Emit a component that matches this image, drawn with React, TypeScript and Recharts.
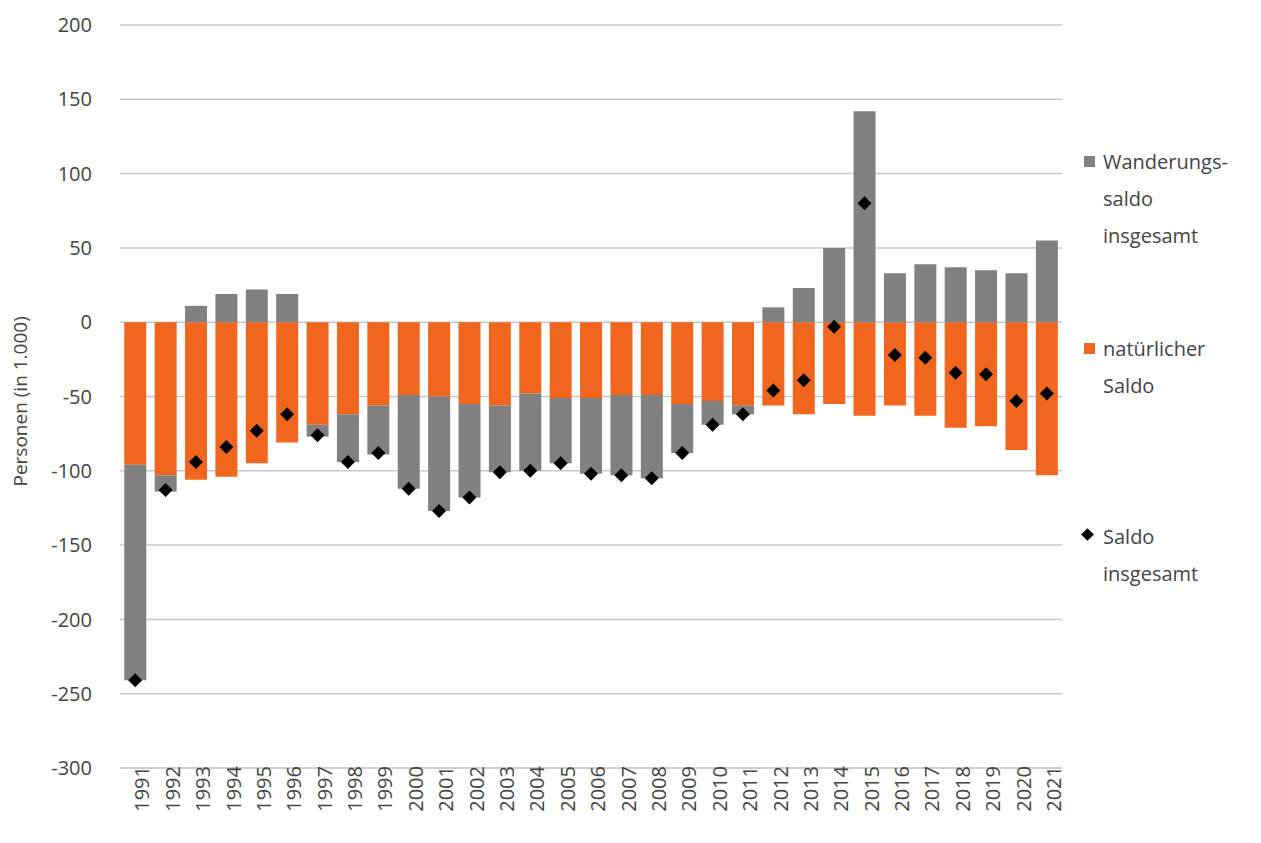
import React from "react";
import { ComposedChart, Bar, Line, XAxis, YAxis, CartesianGrid } from "recharts";

const years = [1991,1992,1993,1994,1995,1996,1997,1998,1999,2000,2001,2002,2003,2004,2005,2006,2007,2008,2009,2010,2011,2012,2013,2014,2015,2016,2017,2018,2019,2020,2021];
const natural = [-96,-103,-106,-104,-95,-81,-69,-62,-56,-49,-50,-55,-56,-48,-51,-51,-49,-49,-55,-53,-56,-56,-62,-55,-63,-56,-63,-71,-70,-86,-103];
const migration = [-145,-11,11,19,22,19,-8,-32,-33,-63,-77,-63,-45,-52,-44,-51,-54,-56,-33,-16,-6,10,23,50,142,33,39,37,35,33,55];
const total = [-241,-113,-94,-84,-73,-62,-76,-94,-88,-112,-127,-118,-101,-100,-95,-102,-103,-105,-88,-69,-62,-46,-39,-3,80,-22,-24,-34,-35,-53,-48];
const yTicks = [200,150,100,50,0,-50,-100,-150,-200,-250,-300];

const data = years.map((y, i) => ({ year: String(y), nat: natural[i], mig: migration[i], tot: total[i] }));

const font = "'Open Sans', sans-serif";

const Diamond = (p: any) => {
  const { cx, cy } = p;
  if (cx == null || cy == null) return null;
  const s = 7;
  return <path d={`M${cx},${cy - s}L${cx + s},${cy}L${cx},${cy + s}L${cx - s},${cy}Z`} fill="#000" />;
};

const legendStyle: React.CSSProperties = { position: "absolute", left: 1103, fontFamily: font, fontSize: 20, color: "#444", lineHeight: "37px" };

export default function App() {
  return (
    <div style={{ position: "absolute", left: 0, top: 0, width: 1261, height: 843, background: "#fff" }}>
      <ComposedChart width={1261} height={843} data={data} stackOffset="sign" barCategoryGap="14%"
        margin={{ top: 25, right: 199, left: 0, bottom: 0 }}>
        <CartesianGrid vertical={false} stroke="#c8c8c8" strokeWidth={1.5} />
        <XAxis dataKey="year" interval={0} angle={-90} textAnchor="end" height={75} axisLine={{ stroke: "#c8c8c8" }} tickLine={false}
          tick={{ fontFamily: font, fontSize: 20, fill: "#444", dy: -10 }} tickMargin={2} />
        <YAxis domain={[-300, 200]} ticks={yTicks} width={120} axisLine={false} tickLine={false} tickMargin={22}
          tick={{ fontFamily: font, fontSize: 20, fill: "#444" }}
          label={{ value: "Personen (in 1.000)", angle: -90, position: "insideLeft", offset: 20, dy: 90, style: { fontFamily: font, fontSize: 19, fill: "#444" } }} />
        <Bar dataKey="nat" stackId="a" fill="#f0661e" isAnimationActive={false} />
        <Bar dataKey="mig" stackId="a" fill="#808080" isAnimationActive={false} />
        <Line dataKey="tot" stroke="none" dot={<Diamond />} activeDot={false} isAnimationActive={false} />
      </ComposedChart>
      <div style={{ ...legendStyle, top: 143 }}>
        <span style={{ position: "absolute", left: -19, top: 13, width: 11, height: 11, background: "#808080" }} />
        Wanderungs-<br />saldo<br />insgesamt
      </div>
      <div style={{ ...legendStyle, top: 330 }}>
        <span style={{ position: "absolute", left: -19, top: 13, width: 11, height: 11, background: "#f0661e" }} />
        natürlicher<br />Saldo
      </div>
      <div style={{ ...legendStyle, top: 518 }}>
        <span style={{ position: "absolute", left: -20, top: 12, width: 9, height: 9, background: "#000", transform: "rotate(45deg)" }} />
        Saldo<br />insgesamt
      </div>
    </div>
  );
}
